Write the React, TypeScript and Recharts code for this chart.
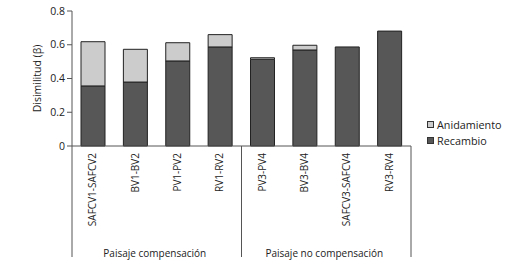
import React from 'react';
import { BarChart, Bar, XAxis, YAxis } from 'recharts';

const categories = ['SAFCV1-SAFCV2', 'BV1-BV2', 'PV1-PV2', 'RV1-RV2', 'PV3-PV4', 'BV3-BV4', 'SAFCV3-SAFCV4', 'RV3-RV4'];
const recambio = [0.356, 0.379, 0.504, 0.587, 0.514, 0.569, 0.587, 0.681];
const anidamiento = [0.262, 0.194, 0.108, 0.073, 0.009, 0.028, 0, 0];
const groups = ['Paisaje compensación', 'Paisaje no compensación'];
const seriesNames = ['Anidamiento', 'Recambio'];
const yTicks = [0, 0.2, 0.4, 0.6, 0.8];

const data = categories.map((c, i) => ({ name: c, Recambio: recambio[i], Anidamiento: anidamiento[i] }));

const FONT = '"Open Sans", sans-serif';
const AXIS = '#555';
const DARK = '#575757';
const LIGHT = '#cccccc';

const XTick = (props: any) => {
  const { x, y, payload, index } = props;
  const half = payload && payload.offset ? payload.offset : 21.2;
  const lines: React.ReactNode[] = [];
  if (index === 0 || index === 4) {
    lines.push(<line key="l" x1={x - half} x2={x - half} y1={y} y2={y + 111} stroke={AXIS} strokeWidth={1} />);
  }
  if (index === categories.length - 1) {
    lines.push(<line key="r" x1={x + half} x2={x + half} y1={y} y2={y + 111} stroke={AXIS} strokeWidth={1} />);
  }
  if (index === 1 || index === 5) {
    lines.push(
      <text key="g" x={x + half - 2} y={y + 111} textAnchor="middle" fontSize={10} fontFamily={FONT} fill="#222">
        {groups[index === 1 ? 0 : 1]}
      </text>
    );
  }
  return (
    <g>
      <text
        x={x - 1}
        y={y + 7}
        transform={`rotate(-90 ${x - 1} ${y + 7})`}
        textAnchor="end"
        dominantBaseline="central"
        fontSize={10}
        fontFamily={FONT}
        fill="#222"
      >
        {payload.value}
      </text>
      {lines}
    </g>
  );
};

export default function App() {
  const colors = [LIGHT, DARK];
  return (
    <div style={{ position: 'absolute', left: 0, top: 0, width: 528, height: 264, background: '#fff' }}>
      <BarChart
        width={528}
        height={264}
        data={data}
        margin={{ top: 11, right: 117, bottom: 0, left: 0 }}
        barCategoryGap={0}
      >
        <XAxis
          dataKey="name"
          interval={0}
          tickLine={false}
          tickSize={0}
          tickMargin={0}
          height={118}
          axisLine={{ stroke: AXIS }}
          tick={<XTick />}
        />
        <YAxis
          width={72}
          domain={[0, 0.8]}
          ticks={yTicks}
          tickFormatter={(v: number) => (v === 0 ? '0' : String(v))}
          tick={{ fontSize: 10.5, fontFamily: FONT, fill: '#222' }}
          tickSize={5}
          tickMargin={2}
          axisLine={{ stroke: AXIS }}
          tickLine={{ stroke: AXIS }}
          label={{
            content: (p: any) => {
              const vb = p.viewBox || { x: 0, y: 11, height: 135 };
              const cx = vb.x + 37;
              const cy = vb.y + vb.height / 2;
              return (
                <text
                  x={cx}
                  y={cy}
                  transform={`rotate(-90 ${cx} ${cy})`}
                  textAnchor="middle"
                  dominantBaseline="central"
                  fontSize={10.5}
                  fontFamily={FONT}
                  fill="#222"
                >
                  Disimilitud (β)
                </text>
              );
            },
          }}
        />
        <Bar dataKey="Recambio" stackId="a" fill={DARK} stroke="#222" strokeWidth={1} barSize={24} isAnimationActive={false} />
        <Bar dataKey="Anidamiento" stackId="a" fill={LIGHT} stroke="#222" strokeWidth={1} barSize={24} isAnimationActive={false} />
      </BarChart>
      <div style={{ position: 'absolute', left: 427, top: 116, fontFamily: FONT, fontSize: 10.8, color: '#222' }}>
        {seriesNames.map((n, i) => (
          <div key={n} style={{ display: 'flex', alignItems: 'center', height: 16.5 }}>
            <span
              style={{
                display: 'inline-block',
                width: 5,
                height: 5,
                background: colors[i],
                border: '1px solid #333',
                marginRight: 3,
              }}
            />
            <span>{n}</span>
          </div>
        ))}
      </div>
    </div>
  );
}
